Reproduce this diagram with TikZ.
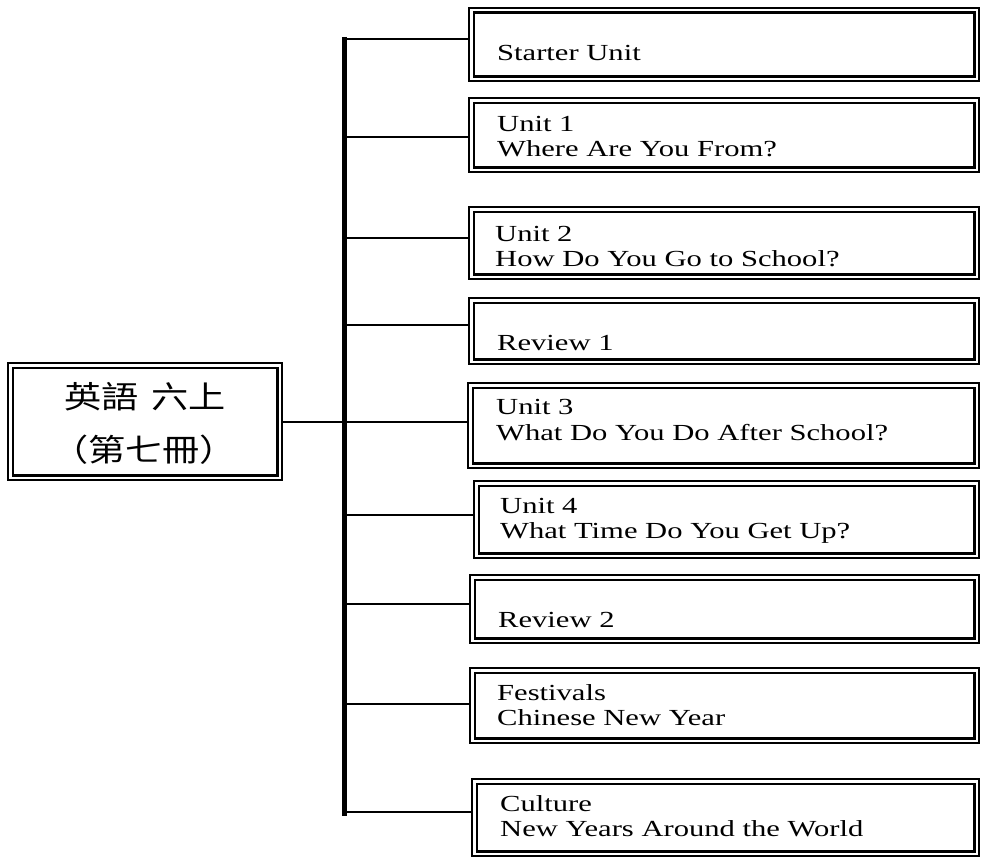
\documentclass[tikz,border=0pt]{standalone}
\usepackage{fontspec}
\setmainfont[FakeStretch=1.33]{Liberation Serif}
\newfontfamily\cjkfont[FakeStretch=1.2]{Noto Sans CJK TC}
\usetikzlibrary{backgrounds}
\begin{document}
\begin{tikzpicture}[x=1pt,y=-1pt,
  ubox/.style={draw=black, line width=2.1pt, double=white, double distance=2.4pt, inner sep=0pt},
  lbl/.style={anchor=base west, inner sep=0pt, font=\fontsize{23}{26}\selectfont, text=black},
  cjklbl/.style={anchor=base, inner sep=0pt, font=\cjkfont\fontsize{31}{34}\selectfont, text=black},
  conn/.style={draw=black, line width=2.7pt},
  barline/.style={draw=black, line width=5pt}]
\useasboundingbox (0,0) rectangle (982,859);
\newcommand\ubox[5]{\node[ubox, minimum width={(#4-#2-6.6)*1pt}, minimum height={(#5-#3-6.6)*1pt}] (#1) at ({(#2+#4)/2},{(#3+#5)/2}) {};}
% boxes
\ubox{main}{7}{362}{283}{481}
\ubox{s0}{468}{7}{980}{82}
\ubox{s1}{468}{97}{980}{173}
\ubox{s2}{468}{206}{980}{280}
\ubox{s3}{468}{297}{980}{365}
\ubox{s4}{467}{382}{980}{469}
\ubox{s5}{473}{480}{980}{559}
\ubox{s6}{469}{574}{980}{644}
\ubox{s7}{469}{667}{980}{744}
\ubox{s8}{471}{778}{980}{857}
% texts
\node[cjklbl] (m1) at (145,408) {英語\hspace{0.4em}六上};
\node[cjklbl] (m2) at (144,461) {（第七冊）};
\node[lbl] (t0) at (497,60) {Starter Unit};
\node[lbl] (t1a) at (497,131) {Unit 1};
\node[lbl] (t1b) at (497,156) {Where Are You From?};
\node[lbl] (t2a) at (495,241) {Unit 2};
\node[lbl] (t2b) at (495,266) {How Do You Go to School?};
\node[lbl] (t3) at (497,350) {Review 1};
\node[lbl] (t4a) at (496,414) {Unit 3};
\node[lbl] (t4b) at (496,440) {What Do You Do After School?};
\node[lbl] (t5a) at (500,513) {Unit 4};
\node[lbl] (t5b) at (500,538) {What Time Do You Get Up?};
\node[lbl] (t6) at (498,627) {Review 2};
\node[lbl] (t7a) at (497,700) {Festivals};
\node[lbl] (t7b) at (497,725) {Chinese New Year};
\node[lbl] (t8a) at (500,811) {Culture};
\node[lbl] (t8b) at (500,836) {New Years Around the World};
% bar and connectors
\coordinate (btop) at (344.5,37);
\coordinate (bbot) at (344.5,816);
\coordinate (bm) at (344.5,422);
\coordinate (b0) at (344.5,39);
\coordinate (b1) at (344.5,137);
\coordinate (b2) at (344.5,238);
\coordinate (b3) at (344.5,325);
\coordinate (b5) at (344.5,515);
\coordinate (b6) at (344.5,604);
\coordinate (b7) at (344.5,704);
\coordinate (b8) at (344.5,812);
\begin{pgfonlayer}{background}
\draw[barline] (btop) -- (bbot);
\draw[conn] (main.east |- bm) -- (bm);
\draw[conn] (b0) -- (b0 -| s0.west);
\draw[conn] (b1) -- (b1 -| s1.west);
\draw[conn] (b2) -- (b2 -| s2.west);
\draw[conn] (b3) -- (b3 -| s3.west);
\draw[conn] (bm) -- (bm -| s4.west);
\draw[conn] (b5) -- (b5 -| s5.west);
\draw[conn] (b6) -- (b6 -| s6.west);
\draw[conn] (b7) -- (b7 -| s7.west);
\draw[conn] (b8) -- (b8 -| s8.west);
\end{pgfonlayer}
\end{tikzpicture}
\end{document}
